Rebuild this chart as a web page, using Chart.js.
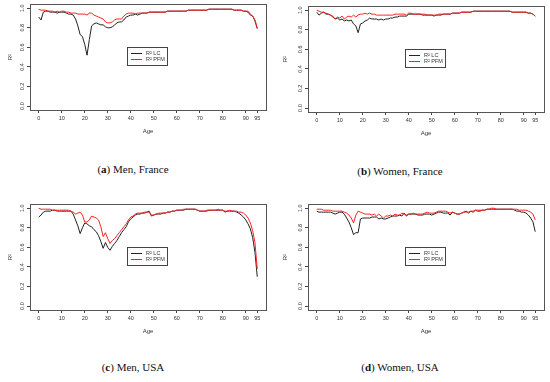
<!DOCTYPE html>
<html>
<head>
<meta charset="utf-8">
<script src="https://cdn.jsdelivr.net/npm/chart.js@4"></script>
<style>
  body { margin: 0; background: #fff; }
  #page { position: relative; width: 550px; height: 382px; overflow: hidden; }
  .panel { position: absolute; width: 275px; height: 140px; }
  .caption { position: absolute; font-family: "Liberation Serif", serif; font-size: 11px; color: #111; white-space: nowrap; transform: translateX(-50%); }
</style>
</head>
<body>
<div id="page">
  <div class="panel" style="left:0;top:0"><canvas id="chartA" width="275" height="140"></canvas></div>
  <div class="panel" style="left:275px;top:2px"><canvas id="chartB" width="275" height="140"></canvas></div>
  <div class="panel" style="left:0;top:200px"><canvas id="chartC" width="275" height="140"></canvas></div>
  <div class="panel" style="left:275px;top:200px"><canvas id="chartD" width="275" height="140"></canvas></div>
  <div class="caption" style="left:133px;top:163px">(<b>a</b>) Men, France</div>
  <div class="caption" style="left:400px;top:165px">(<b>b</b>) Women, France</div>
  <div class="caption" style="left:133px;top:361px">(<b>c</b>) Men, USA</div>
  <div class="caption" style="left:400px;top:361px">(<b>d</b>) Women, USA</div>
</div>
<script>
// ages 0..95
var ages = Array.from({ length: 96 }, function (_, i) { return i; });
var xTickValues = [0, 10, 20, 30, 40, 50, 60, 70, 80, 90, 95];
var yTickValues = [0, 0.2, 0.4, 0.6, 0.8, 1.0];
var legendLabels = ["R\u00B2 LC", "R\u00B2 PFM"];

// (a) Men, France
var menFranceLC = [
  0.91, 0.88, 0.96, 0.97, 0.97, 0.96, 0.96, 0.96, 0.95, 0.96,
  0.96, 0.96, 0.95, 0.94, 0.94, 0.93, 0.89, 0.82, 0.73, 0.71,
  0.63, 0.52, 0.68, 0.82, 0.84, 0.85, 0.84, 0.83, 0.83, 0.81,
  0.80, 0.80, 0.81, 0.83, 0.85, 0.86, 0.86, 0.88, 0.91, 0.92,
  0.93, 0.93, 0.94, 0.93, 0.94, 0.95, 0.95, 0.95, 0.96, 0.96,
  0.96, 0.96, 0.96, 0.96, 0.96, 0.96, 0.97, 0.97, 0.97, 0.97,
  0.97, 0.97, 0.97, 0.97, 0.97, 0.98, 0.98, 0.98, 0.98, 0.98,
  0.98, 0.98, 0.98, 0.98, 0.99, 0.99, 0.99, 0.99, 0.99, 0.99,
  0.99, 0.99, 0.99, 0.99, 0.99, 0.98, 0.98, 0.98, 0.98, 0.97,
  0.97, 0.96, 0.93, 0.92, 0.87, 0.79
];
var menFrancePFM = [
  0.99, 0.98, 0.98, 0.98, 0.97, 0.97, 0.97, 0.96, 0.97, 0.96,
  0.97, 0.97, 0.96, 0.96, 0.95, 0.95, 0.95, 0.94, 0.94, 0.94,
  0.94, 0.93, 0.95, 0.95, 0.93, 0.92, 0.91, 0.90, 0.89, 0.86,
  0.85, 0.85, 0.86, 0.88, 0.89, 0.89, 0.89, 0.92, 0.94, 0.95,
  0.95, 0.95, 0.94, 0.95, 0.95, 0.95, 0.95, 0.95, 0.96, 0.96,
  0.96, 0.96, 0.96, 0.96, 0.96, 0.96, 0.97, 0.97, 0.97, 0.97,
  0.97, 0.97, 0.97, 0.97, 0.97, 0.98, 0.98, 0.98, 0.98, 0.98,
  0.98, 0.98, 0.98, 0.98, 0.99, 0.99, 0.99, 0.99, 0.99, 0.99,
  0.99, 0.99, 0.99, 0.99, 0.99, 0.98, 0.98, 0.98, 0.98, 0.97,
  0.97, 0.97, 0.94, 0.92, 0.88, 0.80
];

// (b) Women, France
var womenFranceLC = [
  0.98, 0.95, 0.97, 0.98, 0.96, 0.96, 0.95, 0.93, 0.91, 0.92,
  0.90, 0.91, 0.89, 0.90, 0.89, 0.90, 0.86, 0.84, 0.77, 0.86,
  0.87, 0.89, 0.90, 0.92, 0.91, 0.91, 0.91, 0.90, 0.91, 0.90,
  0.91, 0.91, 0.92, 0.92, 0.93, 0.93, 0.94, 0.94, 0.94, 0.94,
  0.96, 0.96, 0.96, 0.96, 0.96, 0.96, 0.95, 0.95, 0.95, 0.95,
  0.95, 0.94, 0.95, 0.95, 0.95, 0.96, 0.96, 0.96, 0.96, 0.97,
  0.97, 0.97, 0.97, 0.98, 0.98, 0.98, 0.98, 0.98, 0.99, 0.99,
  0.99, 0.99, 0.99, 0.99, 0.99, 0.99, 0.99, 0.99, 0.99, 0.99,
  0.99, 0.99, 0.99, 0.99, 0.99, 0.98, 0.98, 0.98, 0.98, 0.98,
  0.98, 0.98, 0.97, 0.97, 0.96, 0.94
];
var womenFrancePFM = [
  1.00, 0.99, 0.98, 0.98, 0.97, 0.96, 0.95, 0.94, 0.91, 0.93,
  0.92, 0.94, 0.91, 0.93, 0.94, 0.93, 0.95, 0.93, 0.95, 0.96,
  0.96, 0.97, 0.96, 0.97, 0.96, 0.96, 0.95, 0.95, 0.95, 0.95,
  0.95, 0.95, 0.95, 0.95, 0.96, 0.96, 0.96, 0.96, 0.96, 0.95,
  0.97, 0.97, 0.96, 0.96, 0.96, 0.96, 0.96, 0.96, 0.95, 0.95,
  0.95, 0.95, 0.95, 0.96, 0.96, 0.96, 0.96, 0.96, 0.96, 0.97,
  0.97, 0.97, 0.97, 0.98, 0.98, 0.98, 0.98, 0.98, 0.99, 0.99,
  0.99, 0.99, 0.99, 0.99, 0.99, 0.99, 0.99, 0.99, 0.99, 0.99,
  0.99, 0.99, 0.99, 0.99, 0.99, 0.98, 0.98, 0.98, 0.98, 0.98,
  0.98, 0.98, 0.97, 0.97, 0.96, 0.94
];

// (c) Men, USA
var menUsaLC = [
  0.91, 0.93, 0.96, 0.97, 0.97, 0.97, 0.98, 0.98, 0.97, 0.97,
  0.97, 0.97, 0.97, 0.97, 0.97, 0.94, 0.88, 0.82, 0.74, 0.80,
  0.85, 0.84, 0.82, 0.81, 0.78, 0.76, 0.72, 0.66, 0.59, 0.65,
  0.60, 0.57, 0.61, 0.64, 0.67, 0.71, 0.75, 0.78, 0.81, 0.86,
  0.89, 0.91, 0.93, 0.94, 0.94, 0.95, 0.95, 0.96, 0.97, 0.92,
  0.93, 0.94, 0.94, 0.94, 0.95, 0.95, 0.96, 0.96, 0.97, 0.97,
  0.98, 0.98, 0.98, 0.98, 0.99, 0.99, 0.99, 0.99, 0.99, 0.98,
  0.97, 0.97, 0.97, 0.97, 0.98, 0.98, 0.98, 0.98, 0.98, 0.98,
  0.98, 0.96, 0.97, 0.97, 0.97, 0.97, 0.96, 0.95, 0.93, 0.91,
  0.88, 0.84, 0.79, 0.70, 0.55, 0.30
];
var menUsaPFM = [
  1.00, 0.99, 0.99, 0.99, 0.99, 0.99, 0.98, 0.98, 0.98, 0.98,
  0.98, 0.98, 0.98, 0.98, 0.97, 0.96, 0.94, 0.95, 0.96, 0.93,
  0.86, 0.86, 0.88, 0.92, 0.91, 0.90, 0.88, 0.81, 0.71, 0.75,
  0.69, 0.64, 0.67, 0.69, 0.72, 0.75, 0.78, 0.81, 0.84, 0.88,
  0.91, 0.92, 0.94, 0.95, 0.95, 0.95, 0.96, 0.96, 0.96, 0.93,
  0.93, 0.94, 0.95, 0.95, 0.95, 0.95, 0.96, 0.96, 0.97, 0.97,
  0.98, 0.98, 0.98, 0.99, 0.99, 0.99, 0.99, 0.99, 0.99, 0.98,
  0.97, 0.97, 0.97, 0.98, 0.98, 0.98, 0.98, 0.98, 0.99, 0.98,
  0.98, 0.97, 0.97, 0.98, 0.97, 0.97, 0.97, 0.96, 0.96, 0.95,
  0.93, 0.90, 0.85, 0.77, 0.65, 0.38
];

// (d) Women, USA
var womenUsaLC = [
  0.97, 0.96, 0.96, 0.96, 0.96, 0.96, 0.96, 0.95, 0.94, 0.95,
  0.96, 0.96, 0.94, 0.90, 0.86, 0.80, 0.73, 0.75, 0.75, 0.89,
  0.90, 0.90, 0.90, 0.90, 0.91, 0.91, 0.91, 0.89, 0.90, 0.89,
  0.89, 0.90, 0.91, 0.92, 0.92, 0.92, 0.93, 0.92, 0.95, 0.92,
  0.94, 0.94, 0.94, 0.94, 0.93, 0.93, 0.93, 0.94, 0.94, 0.94,
  0.93, 0.94, 0.95, 0.96, 0.96, 0.95, 0.95, 0.95, 0.93, 0.96,
  0.95, 0.94, 0.94, 0.95, 0.96, 0.97, 0.95, 0.97, 0.96, 0.98,
  0.97, 0.97, 0.98, 0.98, 0.99, 0.99, 0.99, 0.99, 0.99, 0.99,
  0.99, 0.99, 0.99, 0.99, 0.99, 0.99, 0.98, 0.97, 0.97, 0.96,
  0.96, 0.95, 0.93, 0.90, 0.86, 0.76
];
var womenUsaPFM = [
  0.99, 0.99, 0.99, 0.98, 0.98, 0.98, 0.98, 0.97, 0.97, 0.97,
  0.97, 0.97, 0.96, 0.95, 0.93, 0.90, 0.85, 0.93, 0.97, 0.96,
  0.95, 0.94, 0.94, 0.94, 0.93, 0.94, 0.92, 0.94, 0.92, 0.90,
  0.92, 0.92, 0.93, 0.92, 0.94, 0.93, 0.93, 0.95, 0.94, 0.93,
  0.94, 0.94, 0.95, 0.94, 0.94, 0.94, 0.94, 0.95, 0.96, 0.95,
  0.95, 0.95, 0.96, 0.97, 0.97, 0.97, 0.97, 0.96, 0.95, 0.96,
  0.95, 0.94, 0.94, 0.95, 0.96, 0.96, 0.96, 0.97, 0.97, 0.98,
  0.98, 0.98, 0.98, 0.98, 0.99, 0.99, 1.00, 1.00, 0.99, 0.99,
  0.99, 0.99, 0.99, 0.99, 0.99, 0.99, 0.99, 0.99, 0.98, 0.98,
  0.98, 0.98, 0.97, 0.96, 0.94, 0.88
];

var axisFont = { family: "'Liberation Sans', Arial, sans-serif", size: 5.5 };

function toPoints(values) {
  return values.map(function (v, i) { return { x: ages[i], y: v }; });
}

// box round the plot region + R style legend
var rBoxPlugin = {
  id: "rBox",
  afterDatasetsDraw: function (chart) {
    var ctx = chart.ctx;
    var a = chart.chartArea;
    ctx.save();
    ctx.strokeStyle = "#555";
    ctx.lineWidth = 1;
    ctx.strokeRect(Math.round(a.left) + 0.5, Math.round(a.top) + 0.5,
      Math.round(a.right - a.left), Math.round(a.bottom - a.top));

    var lx = Math.round(a.left) + 97;
    var ly = Math.round(a.top) + 43;
    ctx.fillStyle = "#fff";
    ctx.fillRect(lx, ly, 40, 18);
    ctx.strokeStyle = "#444";
    ctx.strokeRect(lx + 0.5, ly + 0.5, 40, 18);
    var colors = ["#222", "#ff2020"];
    ctx.font = "5.5px 'Liberation Sans', Arial, sans-serif";
    ctx.textBaseline = "middle";
    for (var i = 0; i < 2; i++) {
      var ry = ly + 6.5 + i * 6;
      ctx.strokeStyle = colors[i];
      ctx.beginPath();
      ctx.moveTo(lx + 4, ry);
      ctx.lineTo(lx + 15, ry);
      ctx.stroke();
      ctx.fillStyle = "#333";
      ctx.fillText(legendLabels[i], lx + 19, ry);
    }
    ctx.restore();
  }
};

function makePanel(id, lc, pfm, padLeft, padRight) {
  var ctx = document.getElementById(id).getContext("2d");
  return new Chart(ctx, {
    type: "line",
    data: {
      datasets: [
        { label: legendLabels[0], data: toPoints(lc), borderColor: "#222", borderWidth: 1, pointRadius: 0, tension: 0, order: 2 },
        { label: legendLabels[1], data: toPoints(pfm), borderColor: "#ff2020", borderWidth: 1, pointRadius: 0, tension: 0, order: 1 }
      ]
    },
    options: {
      responsive: false,
      animation: false,
      devicePixelRatio: 1,
      layout: { padding: { left: padLeft, right: padRight, top: 4, bottom: 0 } },
      plugins: { legend: { display: false }, tooltip: { enabled: false } },
      scales: {
        x: {
          type: "linear",
          min: -3.8,
          max: 98.8,
          afterBuildTicks: function (scale) {
            scale.ticks = xTickValues.map(function (v) { return { value: v }; });
          },
          afterFit: function (scale) { scale.height = 30; },
          grid: { drawOnChartArea: false, drawTicks: true, tickLength: 3, color: "#444" },
          border: { display: false },
          ticks: { autoSkip: false, maxRotation: 0, padding: 2, color: "#333", font: axisFont,
            callback: function (v) { return String(v); } },
          title: { display: true, text: "Age", color: "#333", font: { family: axisFont.family, size: 6 }, padding: { top: 0, bottom: 5 } }
        },
        y: {
          min: -0.04,
          max: 1.04,
          afterBuildTicks: function (scale) {
            scale.ticks = yTickValues.map(function (v) { return { value: v }; });
          },
          afterFit: function (scale) { scale.width = 30; },
          grid: { drawOnChartArea: false, drawTicks: true, tickLength: 3, color: "#444" },
          border: { display: false },
          ticks: { minRotation: 90, maxRotation: 90, crossAlign: "center", padding: 1, color: "#333", font: axisFont,
            callback: function (v) { return v.toFixed(1); } },
          title: { display: true, text: "R\u00B2", color: "#333", font: { family: axisFont.family, size: 6 }, padding: { top: 7 - padLeft, bottom: 0 } }
        }
      }
    },
    plugins: [rBoxPlugin]
  });
}

document.addEventListener("DOMContentLoaded", function () {
  makePanel("chartA", menFranceLC, menFrancePFM, 0, 9);
  makePanel("chartB", womenFranceLC, womenFrancePFM, 3, 6);
  makePanel("chartC", menUsaLC, menUsaPFM, 0, 9);
  makePanel("chartD", womenUsaLC, womenUsaPFM, 3, 6);
});
</script>
</body>
</html>
